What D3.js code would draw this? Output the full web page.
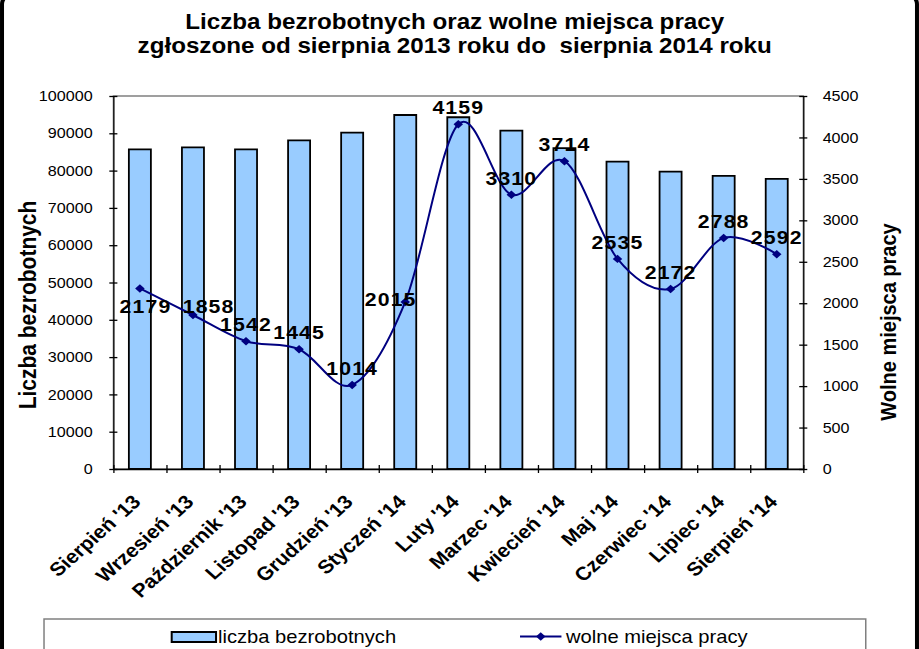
<!DOCTYPE html>
<html>
<head>
<meta charset="utf-8">
<script src="https://cdn.jsdelivr.net/npm/d3@7"></script>
<style>
  html, body { margin: 0; padding: 0; background: #fff; }
  svg * { vector-effect: non-scaling-stroke; }
  text { font-family: "Liberation Sans", Arial, sans-serif; }
</style>
</head>
<body>
<div id="chart"></div>
<script>
// data
const months = ["Sierpień '13", "Wrzesień '13", "Październik '13", "Listopad '13", "Grudzień '13",
                "Styczeń '14", "Luty '14", "Marzec '14", "Kwiecień '14", "Maj '14",
                "Czerwiec '14", "Lipiec '14", "Sierpień '14"];
const unemployed = [85700, 86200, 85700, 88100, 90200, 94900, 94300, 90700, 86000, 82400, 79700, 78600, 77800];
const vacancies = [2179, 1858, 1542, 1445, 1014, 2015, 4159, 3310, 3714, 2535, 2172, 2788, 2592];
const leftTicks = [0, 10000, 20000, 30000, 40000, 50000, 60000, 70000, 80000, 90000, 100000];
const rightTicks = [0, 500, 1000, 1500, 2000, 2500, 3000, 3500, 4000, 4500];
const titleLines = ["Liczba bezrobotnych oraz wolne miejsca pracy",
                    "zgłoszone od sierpnia 2013 roku do  sierpnia 2014 roku"];
const seriesNames = ["liczba bezrobotnych", "wolne miejsca pracy"];

// the picture is stretched sideways, so draw in a narrower box and let the viewBox stretch it
const ctx = {
    w: 919,
    h: 649,
    sx: 1.12
};
ctx.vw = ctx.w / ctx.sx;
const m = { left: 101.2, right: 717.2, top: 96, bottom: 469 };

const svg = d3.select("#chart").append("svg")
    .attr("width", ctx.w)
    .attr("height", ctx.h)
    .attr("viewBox", `0 0 ${ctx.vw} ${ctx.h}`)
    .attr("preserveAspectRatio", "none");

svg.append("rect").attr("width", ctx.vw).attr("height", ctx.h).attr("fill", "#fff");

// outer frame of the chart area
svg.append("rect")
    .attr("x", 1.8).attr("y", -6)
    .attr("width", ctx.vw - 3.6).attr("height", ctx.h + 40)
    .attr("rx", 10)
    .attr("fill", "none").attr("stroke", "#000").attr("stroke-width", 4);

// title
svg.selectAll(".title")
    .data(titleLines)
    .join("text")
    .attr("class", "title")
    .attr("x", 406)
    .attr("y", (d, i) => 29 + i * 24)
    .attr("text-anchor", "middle")
    .style("white-space", "pre")
    .style("font-size", "21.6px")
    .style("font-weight", "bold")
    .text(d => d);

const x = d3.scaleBand().domain(months).range([m.left, m.right]).padding(0);
const xb = d3.scaleLinear().domain([0, months.length]).range([m.left, m.right]);
const yL = d3.scaleLinear().domain([0, 100000]).range([m.bottom, m.top]);
const yR = d3.scaleLinear().domain([0, 4500]).range([m.bottom, m.top]);

// plot area border
svg.append("rect")
    .attr("x", m.left).attr("y", m.top)
    .attr("width", m.right - m.left).attr("height", m.bottom - m.top)
    .attr("fill", "none").attr("stroke", "#808080").attr("stroke-width", 1.3);

// bars
const barW = x.bandwidth() * 0.415;
svg.append("g").selectAll("rect")
    .data(months)
    .join("rect")
    .attr("x", d => x(d) + (x.bandwidth() - barW) / 2)
    .attr("y", (d, i) => yL(unemployed[i]))
    .attr("width", barW)
    .attr("height", (d, i) => yL(0) - yL(unemployed[i]))
    .attr("fill", "#99CCFF")
    .attr("stroke", "#000")
    .attr("stroke-width", 1.8);

// left axis
const gL = svg.append("g")
    .attr("transform", `translate(${m.left},0)`)
    .call(d3.axisLeft(yL).tickValues(leftTicks).tickSize(0).tickPadding(18.5).tickFormat(d3.format("d")));
gL.selectAll(".tick line").attr("x1", -3.6).attr("x2", 3.6);

// right axis
const gR = svg.append("g")
    .attr("transform", `translate(${m.right},0)`)
    .call(d3.axisRight(yR).tickValues(rightTicks).tickSize(0).tickPadding(17.3).tickFormat(d3.format("d")));
gR.selectAll(".tick line").attr("x1", -3.6).attr("x2", 3.6);

// bottom axis, ticks between categories
const gB = svg.append("g")
    .attr("transform", `translate(0,${m.bottom})`)
    .call(d3.axisBottom(xb).tickValues(d3.range(0, months.length + 1)).tickSize(0).tickFormat(""));
gB.selectAll(".tick line").attr("y1", -4).attr("y2", 4);

[gL, gR, gB].forEach(g => {
    g.select(".domain").attr("stroke", "#000").attr("stroke-width", 1.3);
    g.selectAll(".tick line").attr("stroke", "#000").attr("stroke-width", 1.3);
    g.selectAll(".tick text")
        .style("font-family", "'Liberation Sans', Arial, sans-serif")
        .style("font-size", "14.4px")
        .attr("fill", "#000");
});

// category labels
svg.append("g").selectAll("text")
    .data(months)
    .join("text")
    .attr("transform", d => `translate(${x(d) + x.bandwidth() / 2 + 1.8},503) rotate(-45)`)
    .attr("text-anchor", "end")
    .style("font-size", "19px")
    .style("font-weight", "bold")
    .text(d => d);

// axis titles
svg.append("text")
    .attr("transform", `translate(32,305) rotate(-90)`)
    .attr("text-anchor", "middle")
    .style("font-size", "21px")
    .style("font-weight", "bold")
    .text("Liczba bezrobotnych");

svg.append("text")
    .attr("transform", `translate(800,322) rotate(-90)`)
    .attr("text-anchor", "middle")
    .style("font-size", "20px")
    .style("font-weight", "bold")
    .text("Wolne miejsca pracy");

// vacancies line
const line = d3.line()
    .x((d, i) => x(months[i]) + x.bandwidth() / 2)
    .y(d => yR(d))
    .curve(d3.curveCatmullRom.alpha(0));

svg.append("path")
    .datum(vacancies)
    .attr("d", line)
    .attr("fill", "none")
    .attr("stroke", "#000080")
    .attr("stroke-width", 2);

const diamond = d3.symbol().type(d3.symbolSquare).size(36);
svg.append("g").selectAll("path")
    .data(vacancies)
    .join("path")
    .attr("d", diamond())
    .attr("transform", (d, i) => `translate(${x(months[i]) + x.bandwidth() / 2},${yR(d)}) rotate(45)`)
    .attr("fill", "#000080");

// value labels, mostly above the point
const labelShift = { 0: [5, 25], 1: [14, -2], 5: [-13, 4] };
svg.append("g").selectAll("text")
    .data(vacancies)
    .join("text")
    .attr("x", (d, i) => x(months[i]) + x.bandwidth() / 2 + (labelShift[i] ? labelShift[i][0] : 0))
    .attr("y", (d, i) => yR(d) + (labelShift[i] ? labelShift[i][1] : -10))
    .attr("text-anchor", "middle")
    .style("font-size", "19px")
    .style("font-weight", "bold")
    .style("letter-spacing", "1px")
    .text(d => d);

// legend
const lg = svg.append("g");
lg.append("rect")
    .attr("x", 39.3).attr("y", 619)
    .attr("width", 773 - 39.3).attr("height", 60)
    .attr("fill", "#fff").attr("stroke", "#808080").attr("stroke-width", 1.5);

lg.append("rect")
    .attr("x", 153.3).attr("y", 632)
    .attr("width", 39.6).attr("height", 10)
    .attr("fill", "#99CCFF").attr("stroke", "#000").attr("stroke-width", 2);
lg.append("text")
    .attr("x", 194.6).attr("y", 643.5)
    .style("font-size", "18px")
    .text(seriesNames[0]);

lg.append("line")
    .attr("x1", 464.3).attr("x2", 501.3)
    .attr("y1", 636.5).attr("y2", 636.5)
    .attr("stroke", "#000080").attr("stroke-width", 2);
lg.append("path")
    .attr("d", diamond())
    .attr("transform", "translate(482.8,636.5) rotate(45)")
    .attr("fill", "#000080");
lg.append("text")
    .attr("x", 505.4).attr("y", 643.5)
    .style("font-size", "18px")
    .text(seriesNames[1]);
</script>
</body>
</html>
